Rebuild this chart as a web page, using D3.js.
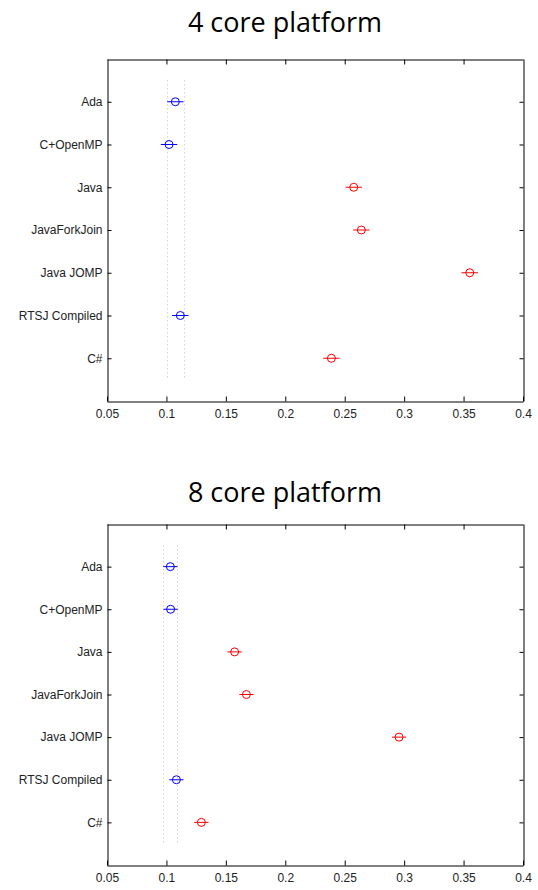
<!DOCTYPE html>
<html>
<head>
<meta charset="utf-8">
<script src="https://cdn.jsdelivr.net/npm/d3@7"></script>
<style>
  html, body { margin: 0; padding: 0; background: #fff; }
  svg { display: block; }
</style>
</head>
<body>
<svg id="chart" width="538" height="890"></svg>
<script>
// Multiple-comparison intervals of run time per language
const categories = ["Ada", "C+OpenMP", "Java", "JavaForkJoin", "Java JOMP", "RTSJ Compiled", "C#"];
const xTicks = [0.05, 0.1, 0.15, 0.2, 0.25, 0.3, 0.35, 0.4];

// 4 core platform: group means and interval half-width
const means4 = [0.1075, 0.1022, 0.2576, 0.2640, 0.3552, 0.1117, 0.2388];
const halfWidth4 = 0.0069;
const groups4 = ["same", "same", "diff", "diff", "diff", "same", "diff"];

// 8 core platform: group means and interval half-width
const means8 = [0.1033, 0.1035, 0.1574, 0.1673, 0.2957, 0.1084, 0.1294];
const halfWidth8 = 0.006;
const groups8 = ["same", "same", "diff", "diff", "diff", "same", "diff"];

const titles = ["4 core platform", "8 core platform"];

const svg = d3.select("#chart");
const colour = { same: "#0000ff", diff: "#ff0000" };

function panel(title, means, hw, groups, box, titleY) {
  const g = svg.append("g");
  const x = d3.scaleLinear().domain([0.05, 0.4]).range([box.left, box.right]);
  const y = d3.scalePoint().domain(categories).range([box.top, box.bottom]).padding(1);
  const step = y.step();

  g.append("text")
    .attr("x", 285).attr("y", titleY)
    .attr("text-anchor", "middle")
    .attr("font-family", "'Open Sans', 'Noto Sans', sans-serif")
    .attr("font-size", 27)
    .attr("fill", "#000")
    .text(title);

  // dotted guides at the ends of the first group's interval
  const ref = means[0];
  [ref - hw, ref + hw].forEach(v => {
    g.append("line")
      .attr("x1", Math.round(x(v)) + 0.5).attr("x2", Math.round(x(v)) + 0.5)
      .attr("y1", y(categories[0]) - step / 2)
      .attr("y2", y(categories[categories.length - 1]) + step / 2)
      .attr("stroke", "#bdbdbd").attr("stroke-width", 1)
      .attr("stroke-dasharray", "1,3");
  });

  // axes: bottom and left with labels, top and right mirrored
  const bottom = g.append("g").attr("transform", `translate(0,${box.bottom + 0.5})`)
    .call(d3.axisBottom(x).tickValues(xTicks).tickFormat(d3.format("")).tickSizeInner(-5).tickSizeOuter(0).tickPadding(8));
  const top = g.append("g").attr("transform", `translate(0,${box.top + 0.5})`)
    .call(d3.axisTop(x).tickValues(xTicks.slice(1, -1)).tickFormat("").tickSizeInner(-5).tickSizeOuter(0));
  const left = g.append("g").attr("transform", `translate(${box.left + 0.5},0)`)
    .call(d3.axisLeft(y).tickSizeInner(-4).tickSizeOuter(0).tickPadding(5));
  const right = g.append("g").attr("transform", `translate(${box.right + 0.5},0)`)
    .call(d3.axisRight(y).tickFormat("").tickSizeInner(-4).tickSizeOuter(0));

  [bottom, top, left, right].forEach(a => {
    a.select(".domain").attr("stroke", "#000");
    a.selectAll(".tick line").attr("stroke", "#000");
    a.selectAll("text")
      .attr("font-family", "'Liberation Sans', Arial, sans-serif")
      .attr("font-size", 12)
      .attr("fill", "#222");
  });
  bottom.selectAll("text").attr("dy", "0.71em");

  // interval lines and mean markers
  const marks = g.append("g");
  categories.forEach((c, i) => {
    const col = colour[groups[i]];
    marks.append("line")
      .attr("x1", x(means[i] - hw)).attr("x2", x(means[i] + hw))
      .attr("y1", y(c)).attr("y2", y(c))
      .attr("stroke", col).attr("stroke-width", 1);
    marks.append("circle")
      .attr("cx", x(means[i])).attr("cy", y(c))
      .attr("r", 4)
      .attr("fill", "none").attr("stroke", col).attr("stroke-width", 1);
  });
}

panel(titles[0], means4, halfWidth4, groups4, { left: 107, right: 523, top: 59, bottom: 401 }, 32);
panel(titles[1], means8, halfWidth8, groups8, { left: 107, right: 523, top: 524, bottom: 865 }, 502);
</script>
</body>
</html>
